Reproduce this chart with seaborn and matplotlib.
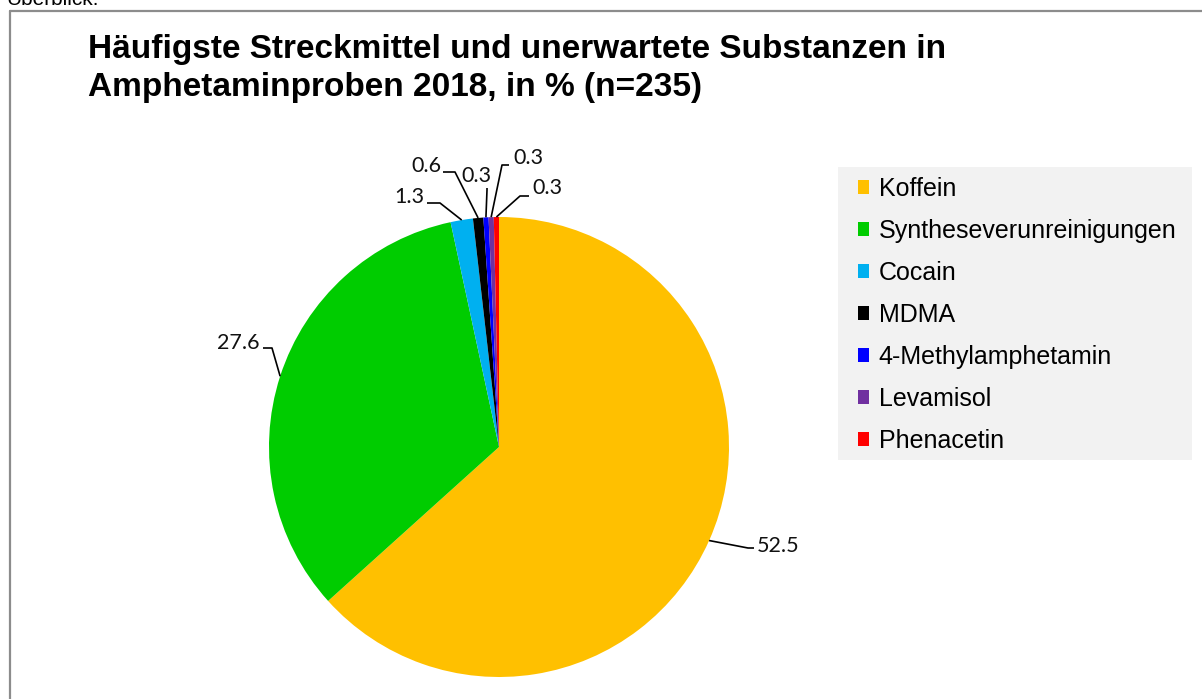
import numpy as np
import matplotlib
matplotlib.use("Agg")
import matplotlib.pyplot as plt
from matplotlib.patches import Patch, Rectangle
from matplotlib.lines import Line2D
import seaborn as sns

categories = ["Koffein", "Syntheseverunreinigungen", "Cocain", "MDMA",
              "4-Methylamphetamin", "Levamisol", "Phenacetin"]
values = [52.5, 27.6, 1.3, 0.6, 0.3, 0.3, 0.3]
colors = ["#FFC000", "#00CC00", "#00B0F0", "#000000", "#0000FF", "#7030A0", "#FF0000"]
title_lines = ["Häufigste Streckmittel und unerwartete Substanzen in",
               "Amphetaminproben 2018, in % (n=235)"]

sns.set_theme(style="white")
plt.rcParams["font.family"] = ["Liberation Sans", "DejaVu Sans"]
plt.rcParams["text.color"] = "black"

W, H = 1202, 699
fig = plt.figure(figsize=(W / 100, H / 100), dpi=100)
ax = fig.add_axes([0, 0, 1, 1])

cx, cy, r = 499, H - 447, 230
wedges, _ = ax.pie(values, colors=colors, startangle=90, counterclock=False,
                   center=(cx, cy), radius=r, frame=True,
                   wedgeprops=dict(linewidth=0, edgecolor="none"))
ax.set_xlim(0, W)
ax.set_ylim(0, H)
ax.set_aspect("equal")
ax.axis("off")

# label layout in image pixels: text anchor, alignment, line start, elbow
layout = [
    dict(tx=757, ty=546, ha="left", start=(754, 548), elbow=(748, 548)),
    dict(tx=260, ty=343, ha="right", start=(263, 348), elbow=(272, 348)),
    dict(tx=424, ty=197, ha="right", start=(427, 203), elbow=(440, 203)),
    dict(tx=441, ty=166, ha="right", start=(443, 172), elbow=(455, 172)),
    dict(tx=476, ty=176, ha="center", start=(487, 188), elbow=(487, 190)),
    dict(tx=513, ty=158, ha="left", start=(509, 165), elbow=(502, 165)),
    dict(tx=532, ty=188, ha="left", start=(529, 196), elbow=(520, 196)),
]
for w, v, lay in zip(wedges, values, layout):
    mid = np.deg2rad((w.theta1 + w.theta2) / 2)
    ex, ey = cx + r * np.cos(mid), cy + r * np.sin(mid)
    pts_x = [lay["start"][0], lay["elbow"][0], ex]
    pts_y = [H - lay["start"][1], H - lay["elbow"][1], ey]
    ax.plot(pts_x, pts_y, color="black", lw=1.2, solid_capstyle="butt")
    ax.text(lay["tx"], H - lay["ty"], f"{v:.1f}", ha=lay["ha"], va="center",
            fontsize=15.5, family=["Lato", "DejaVu Sans"], color="#111111")

# title
for i, line in enumerate(title_lines):
    fig.text(88 / W, 1 - (58 + 38 * i) / H, line, ha="left", va="baseline",
             fontsize=24, fontweight="bold", color="black")
fig.text(6 / W, 1 - 5 / H, "Überblick:", ha="left", va="baseline", fontsize=15, color="black")

# frame lines
fig.add_artist(Line2D([10 / W, 10 / W], [0, 1 - 11 / H], transform=fig.transFigure,
                      color="#8C8C8C", lw=1.6))
fig.add_artist(Line2D([10 / W, 1], [1 - 11 / H, 1 - 11 / H], transform=fig.transFigure,
                      color="#8C8C8C", lw=1.6))

# legend background box
fig.add_artist(Rectangle((838 / W, 1 - 460 / H), (1192 - 838) / W, (460 - 167) / H,
                         transform=fig.transFigure, facecolor="#F2F2F2",
                         edgecolor="none", zorder=0))

handles = [Patch(facecolor=c, edgecolor="none") for c in colors]
leg = fig.legend(handles, categories, loc="upper left",
                 bbox_to_anchor=(858 / W, 1 - 177 / H), frameon=False,
                 fontsize=18, handlelength=0.45, handleheight=0.45, handletextpad=0.38,
                 labelspacing=0.72, borderpad=0, borderaxespad=0)
for t in leg.get_texts():
    t.set_color("black")

fig.savefig("out.png", dpi=100)
